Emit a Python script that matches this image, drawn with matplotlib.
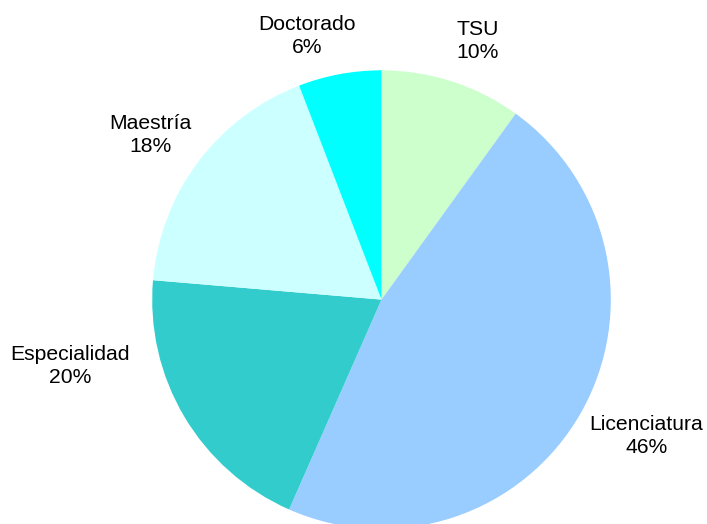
import matplotlib
matplotlib.use("Agg")
import matplotlib.pyplot as plt

categories = ["TSU", "Licenciatura", "Especialidad", "Maestría", "Doctorado"]
values = [9.95, 46.65, 19.75, 17.8, 5.85]
pct_labels = ["10%", "46%", "20%", "18%", "6%"]
colors = ["#CCFFCC", "#99CCFF", "#33CCCC", "#CCFFFF", "#00FFFF"]

plt.rcParams['font.family'] = ['Liberation Sans', 'DejaVu Sans']

fig = plt.figure(figsize=(7.07, 5.24), dpi=100)
W, H = 707, 524
cx, cy, r = 381.5, 299.6, 229.3
ax = fig.add_axes([(cx - r) / W, (H - cy - r) / H, 2 * r / W, 2 * r / H])

wedges, texts = ax.pie(values, colors=colors, startangle=90, counterclock=False,
                       labels=None, radius=1.0)
ax.set_xlim(-1, 1)
ax.set_ylim(-1, 1)
ax.set_aspect('equal')
ax.axis('off')

# label centres in pixel coordinates (style/layout)
label_pos = [(478, 41), (646.5, 436), (70.3, 366), (150, 135), (307.5, 36)]
for cat, pl, (px, py) in zip(categories, pct_labels, label_pos):
    x = (px - cx) / r
    y = (cy - py) / r
    ax.text(x, y, f"{cat}\n{pl}", ha='center', va='center',
            fontsize=15.2, linespacing=1.25, clip_on=False)

fig.savefig("out.png", dpi=100)
